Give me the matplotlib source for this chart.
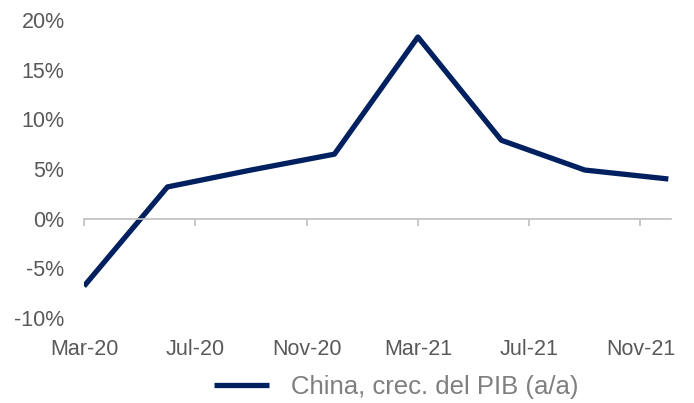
import matplotlib.pyplot as plt
from matplotlib.ticker import FuncFormatter

# quarterly data, x = months since Mar-20
months = [0, 3, 6, 9, 12, 15, 18, 21]
gdp_yoy = [-6.8, 3.2, 4.9, 6.5, 18.3, 7.9, 4.9, 4.0]
tick_months = [0, 4, 8, 12, 16, 20]
tick_labels = ["Mar-20", "Jul-20", "Nov-20", "Mar-21", "Jul-21", "Nov-21"]
series_label = "China, crec. del PIB (a/a)"

TEXT = "#595959"
AXIS = "#bfbfbf"
LINE = "#002060"

plt.rcParams["font.family"] = ["Liberation Sans", "DejaVu Sans"]

fig = plt.figure(figsize=(6.94, 4.03), dpi=100)
ax = fig.add_axes([0.121, 0.211, 0.846, 0.739])

ax.plot(months, gdp_yoy, color=LINE, linewidth=3.8, solid_capstyle="butt",
        label=series_label)

ax.set_xlim(0, 21.1)
ax.set_ylim(-10, 20)
ax.set_yticks(range(-10, 21, 5))
ax.yaxis.set_major_formatter(FuncFormatter(lambda v, _: f"{v:.0f}%"))
ax.tick_params(axis="y", length=0, labelsize=15.5, labelcolor=TEXT, pad=14)

for side in ("top", "right", "left"):
    ax.spines[side].set_visible(False)
ax.spines["bottom"].set_position(("data", 0))
ax.spines["bottom"].set_color(AXIS)
ax.spines["bottom"].set_linewidth(1.2)
ax.set_xticks(tick_months)
ax.tick_params(axis="x", direction="out", length=5, width=1.2, color=AXIS,
               labelbottom=False)

sec = ax.secondary_xaxis("bottom")
sec.set_xticks(tick_months)
sec.set_xticklabels(tick_labels)
sec.spines["bottom"].set_visible(False)
sec.tick_params(length=0, labelsize=15.5, labelcolor=TEXT, pad=15)

leg = fig.legend(loc="center", bbox_to_anchor=(0.571, 0.04), frameon=False,
                 fontsize=18.5, handlelength=2.15, handletextpad=0.85)
for t in leg.get_texts():
    t.set_color("#7f7f7f")

fig.savefig("out.png", dpi=100)
